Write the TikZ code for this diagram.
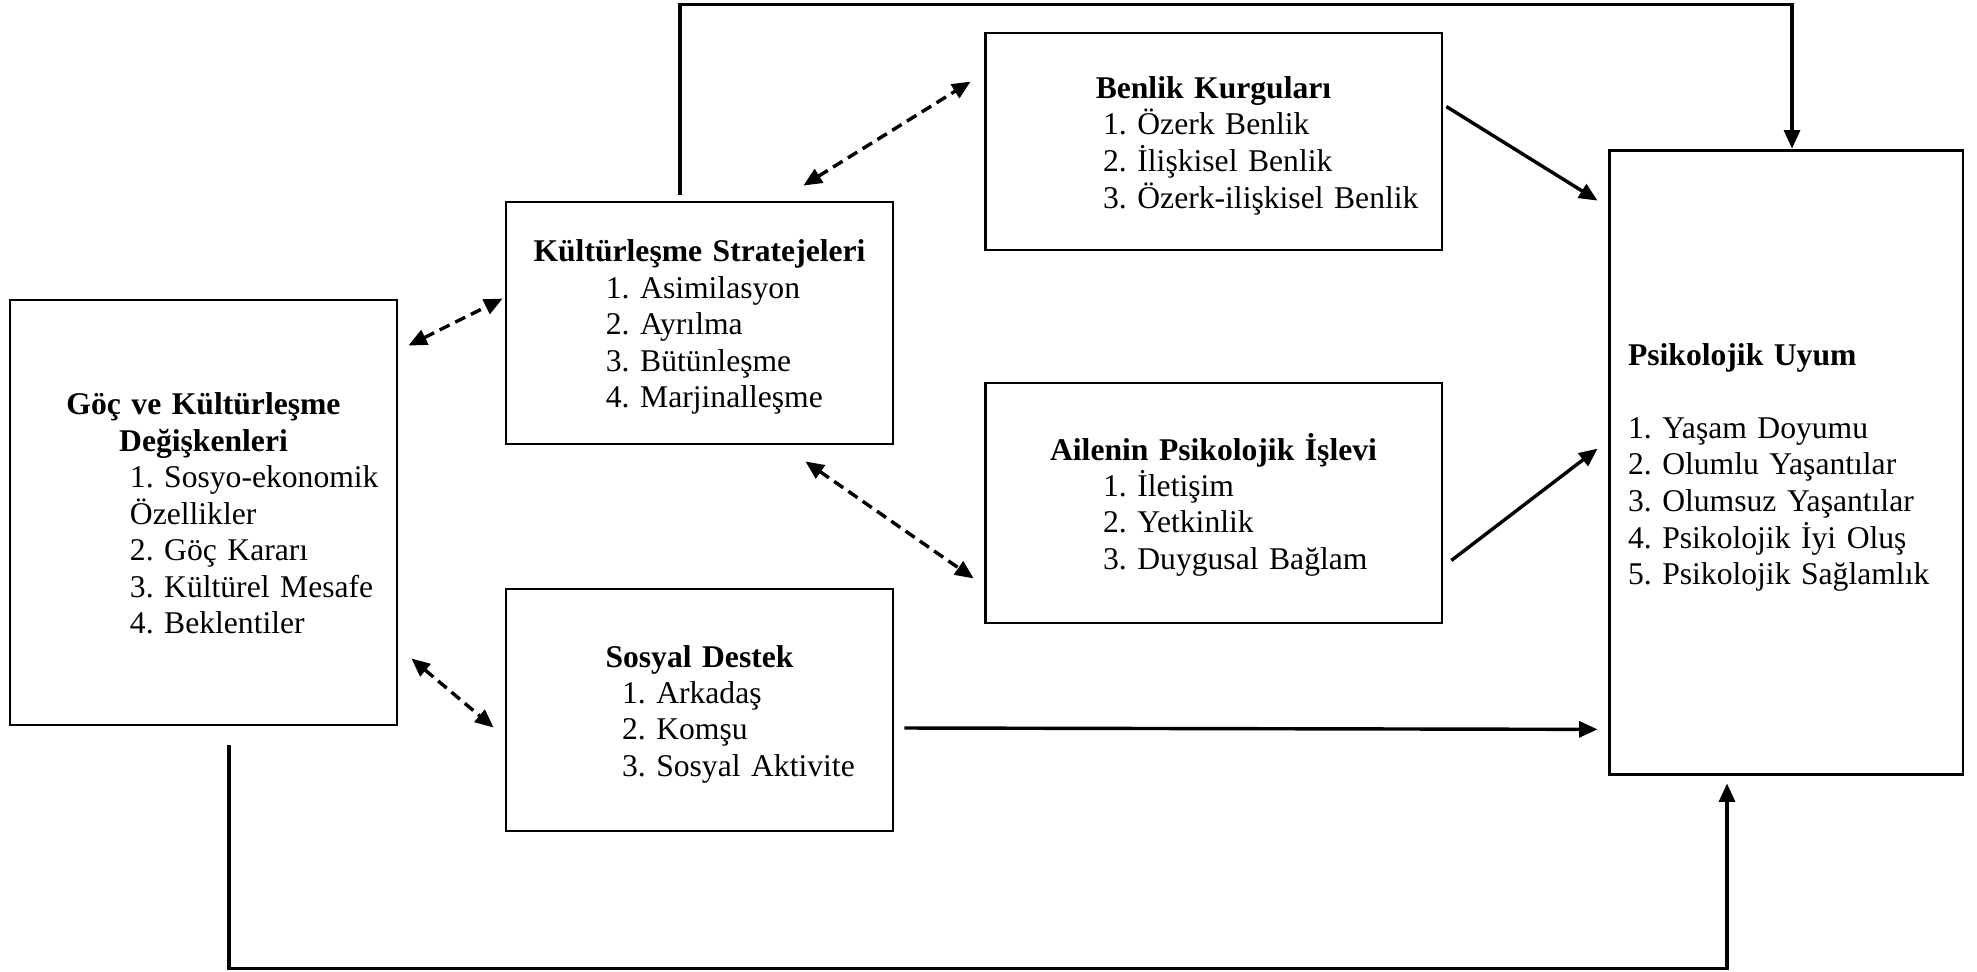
\documentclass[tikz,border=0pt]{standalone}
\usepackage{fontspec}
\setmainfont{Liberation Serif}
\usetikzlibrary{arrows.meta,calc}

% kutu icindeki numarali liste: genislik, girinti, maddeler
\newcommand{\maddeler}[3]{\par\makebox[#1][l]{\hspace*{#2}\begin{tabular}[t]{@{}l@{}}#3\end{tabular}}}
% kutu basligi
\newcommand{\baslik}[1]{\rule{0pt}{13pt}\textbf{#1}}

\begin{document}
\begin{tikzpicture}[x=0.013333cm, y=-0.013333cm,
    kutu/.style={draw, line width=1.1pt, inner sep=0pt, align=center,
        font=\fontsize{12}{13.8}\selectfont\frenchspacing},
    yol/.style={line width=1.3pt, -{Triangle[length=7pt,width=6pt]}},
    iliski/.style={line width=1.3pt, dash pattern=on 4.2pt off 2.4pt,
        {Triangle[length=7pt,width=6pt]}-{Triangle[length=7pt,width=6pt]}}]
    \useasboundingbox (0,0) rectangle (1977,971);

    % kutular
    \node[kutu, text width=5.16cm, minimum height=5.667cm] (goc) at (203.5,512.5)
        {\baslik{Göç ve Kültürleşme}\\\textbf{Değişkenleri}
         \maddeler{5.16cm}{45.5pt}{1. Sosyo-ekonomik\\Özellikler\\2. Göç Kararı\\3. Kültürel Mesafe\\4. Beklentiler}};
    \node[kutu, text width=5.16cm, minimum height=3.227cm] (kult) at (699.5,323)
        {\baslik{Kültürleşme Stratejeleri}
         \maddeler{5.16cm}{37.9pt}{1. Asimilasyon\\2. Ayrılma\\3. Bütünleşme\\4. Marjinalleşme}};
    \node[kutu, text width=5.16cm, minimum height=3.227cm] (sosyal) at (699.5,710)
        {\baslik{Sosyal Destek}
         \maddeler{5.16cm}{44pt}{1. Arkadaş\\2. Komşu\\3. Sosyal Aktivite}};
    \node[kutu, text width=6.093cm, minimum height=2.893cm] (benlik) at (1213.5,141.5)
        {\baslik{Benlik Kurguları}
         \maddeler{6.093cm}{44.8pt}{1. Özerk Benlik\\2. İlişkisel Benlik\\3. Özerk-ilişkisel Benlik}};
    \node[kutu, text width=6.093cm, minimum height=3.2cm] (aile) at (1213.5,503)
        {\baslik{Ailenin Psikolojik İşlevi}
         \maddeler{6.093cm}{44.8pt}{1. İletişim\\2. Yetkinlik\\3. Duygusal Bağlam}};
    \node[kutu, text width=4.72cm, minimum height=8.333cm] (uyum) at (1786,462.5)
        {\maddeler{4.72cm}{7.2pt}{\textbf{Psikolojik Uyum}\\[13.8pt]1. Yaşam Doyumu\\2. Olumlu Yaşantılar\\3. Olumsuz Yaşantılar\\4. Psikolojik İyi Oluş\\5. Psikolojik Sağlamlık}};

    % iki yonlu iliskiler
    \draw[iliski] ($(goc.north east)+(10,47)$) -- ($(kult.north west)+(-2,98)$);
    \draw[iliski] ($(goc.south east)+(13,-68)$) -- ($(sosyal.north west)+(-11,140)$);
    \draw[iliski] ($(kult.north east)+(-91,-15)$) -- ($(benlik.north west)+(-13,50)$);
    \draw[iliski] ($(kult.south east)+(-89,16)$) -- ($(aile.south west)+(-10,-46)$);

    % uyuma giden yollar
    \draw[yol] ($(benlik.north east)+(3,75)$) -- ($(uyum.north west)+(-10,52)$);
    \draw[yol] ($(aile.south east)+(8,-64)$) -- ($(uyum.north west)+(-10,300)$);
    \draw[yol] ($(sosyal.east)+(10,18)$) -- ($(uyum.south west)+(-10,-47)$);
    \draw[yol] ($(kult.north)+(-19.5,-6)$) -- ++(0,-190) -| ($(uyum.north)+(6,0)$);
    \draw[yol] ($(goc.south)+(25.5,19)$) -- ++(0,223) -| ($(uyum.south)+(-59,7)$);
\end{tikzpicture}
\end{document}
